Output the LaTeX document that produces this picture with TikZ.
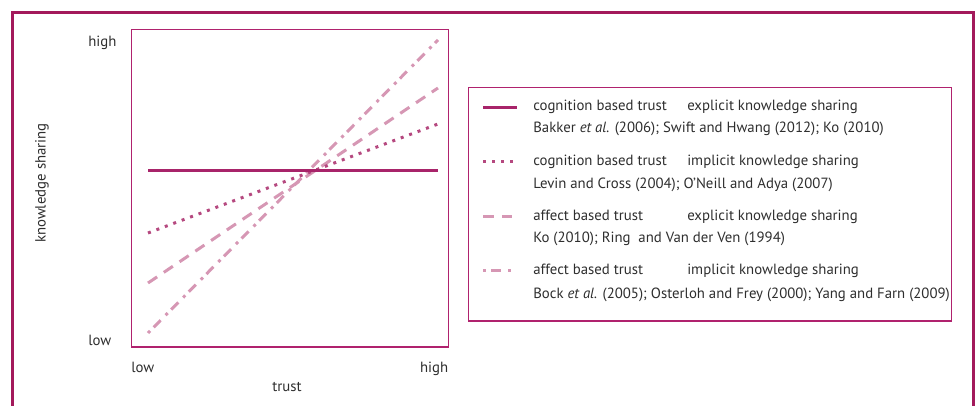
\documentclass[tikz,border=0pt]{standalone}
\usepackage{fontspec}
\setmainfont{PT Sans}

\definecolor{framered}{HTML}{A3195B}
\definecolor{boxred}{HTML}{B0226E}
\definecolor{darkline}{HTML}{A8246A}
\definecolor{dotline}{HTML}{B5487F}
\definecolor{paleline}{HTML}{D697B4}

\tikzset{
  lbl/.style={font=\fontsize{11.1}{13}\selectfont, inner sep=0pt, text=black!82},
  cogexp/.style={line width=2.25pt, darkline},
  cogimp/.style={line width=2.25pt, dotline, dash pattern=on 2.25pt off 4.5pt},
  affexp/.style={line width=2.25pt, paleline, dash pattern=on 8.25pt off 6pt},
  affimp/.style={line width=2.25pt, paleline, dash pattern=on 2.25pt off 3.75pt on 7.5pt off 5.25pt},
}

\begin{document}
\begin{tikzpicture}[x=0.75pt,y=-0.75pt]
\useasboundingbox (0,0) rectangle (976,406);
\clip (0,0) rectangle (976,406);
\draw[line width=1.9pt,framered] (12.3,12.3) rectangle (973.5,440);
\draw[line width=1pt,boxred] (131.5,29.5) rectangle (448.5,347);

% chart
\draw[affimp] (148,333) -- (438,40);
\draw[affexp] (148,283) -- (438,88);
\draw[cogimp] (148,233) -- (438,124);
\draw[cogexp] (148,171) -- (438,171);

\node[lbl,anchor=base west] (yhigh) at (88,47) {high};
\node[lbl,anchor=base west] (ylow) at (88,346) {low};
\node[lbl,anchor=base west] (xlow) at (131,373) {low};
\node[lbl,anchor=base east] (xhigh) at (448.5,373) {high};
\node[lbl,anchor=base] (xname) at (287,392) {trust};
\node[lbl,rotate=90] (yname) at (42,183) {knowledge sharing};

% legend
\draw[line width=1pt,boxred] (468.5,87.5) rectangle (951.5,321);
\draw[cogexp] (483,108) -- (517,108);
\draw[cogimp] (483,162) -- (514,162);
\draw[affexp] (483,217) -- (512,217);
\draw[affimp] (483,271) -- (512,271);

\node[lbl,anchor=base west] (ceA) at (533,111) {cognition based trust};
\node[lbl,anchor=base west] (ceB) at (687,111) {explicit knowledge sharing};
\node[lbl,anchor=base west] (ceC) at (533,133) {Bakker \textit{et al.} (2006); Swift and Hwang (2012); Ko (2010)};
\node[lbl,anchor=base west] (ciA) at (533,166) {cognition based trust};
\node[lbl,anchor=base west] (ciB) at (687,166) {implicit knowledge sharing};
\node[lbl,anchor=base west] (ciC) at (533,189) {Levin and Cross (2004); O’Neill and Adya (2007)};
\node[lbl,anchor=base west] (aeA) at (533,221) {affect based trust};
\node[lbl,anchor=base west] (aeB) at (687,221) {explicit knowledge sharing};
\node[lbl,anchor=base west] (aeC) at (533,243) {Ko (2010); Ring\ \ and Van der Ven (1994)};
\node[lbl,anchor=base west] (aiA) at (533,275) {affect based trust};
\node[lbl,anchor=base west] (aiB) at (687,275) {implicit knowledge sharing};
\node[lbl,anchor=base west] (aiC) at (533,299) {Bock \textit{et al.} (2005); Osterloh and Frey (2000); Yang and Farn (2009)};
\end{tikzpicture}
\end{document}
